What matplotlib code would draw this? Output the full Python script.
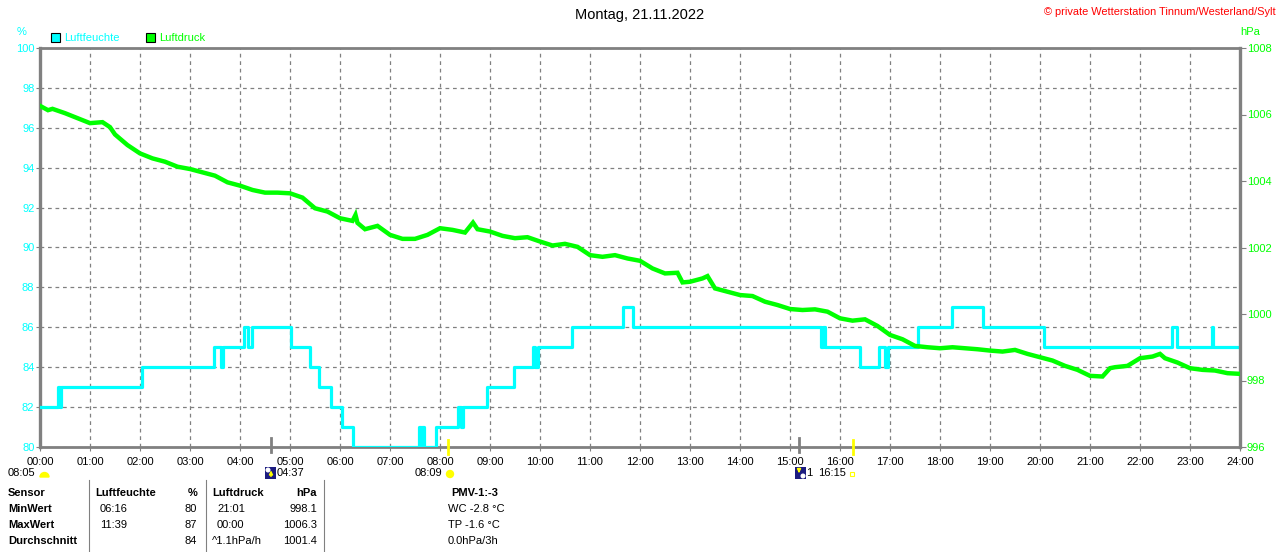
import matplotlib
matplotlib.use("Agg")
import matplotlib.pyplot as plt
from matplotlib.patches import Rectangle, Wedge, Circle

plt.rcParams['font.family'] = ['Liberation Sans', 'DejaVu Sans']

# --- data ---------------------------------------------------------------
hour_labels = [f"{h:02d}:00" for h in range(25)]

# humidity (%) as step changes: time in hours, new value
hum_hours = [0.0, 0.36, 0.39, 0.42, 2.03, 3.48, 3.62, 3.66, 4.07, 4.15, 4.24,
             5.01, 5.39, 5.58, 5.82, 6.04, 6.25, 7.58, 7.62, 7.64, 7.68, 7.92,
             8.37, 8.42, 8.46, 8.93, 9.48, 9.85, 9.89, 9.95, 10.64, 11.65,
             11.86, 15.61, 15.66, 15.70, 16.39, 16.77, 16.90, 16.95, 17.55,
             18.23, 18.85, 20.07, 22.63, 22.73, 23.43, 23.46, 24.0]
hum_vals = [82, 83, 82, 83, 84, 85, 84, 85, 86, 85, 86,
            85, 84, 83, 82, 81, 80, 81, 80, 81, 80, 81,
            82, 81, 82, 83, 84, 85, 84, 85, 86, 87,
            86, 85, 86, 85, 84, 85, 84, 85, 86,
            87, 86, 85, 86, 85, 86, 85, 85]

# pressure (hPa)
pres_hours = [0.00, 0.16, 0.25, 0.50, 0.75, 1.00, 1.25, 1.40, 1.50, 1.75,
              2.00, 2.25, 2.50, 2.75, 3.00, 3.25, 3.50, 3.75, 4.00, 4.25,
              4.50, 4.75, 5.00, 5.25, 5.50, 5.75, 6.00, 6.25, 6.31, 6.35,
              6.50, 6.75, 7.00, 7.25, 7.50, 7.75, 8.00, 8.25, 8.50, 8.66,
              8.75, 9.00, 9.25, 9.50, 9.75, 10.00, 10.25, 10.50, 10.75, 11.00,
              11.25, 11.50, 11.75, 12.00, 12.25, 12.50, 12.75, 12.85, 13.00, 13.25,
              13.35, 13.50, 13.75, 14.00, 14.25, 14.50, 14.75, 15.00, 15.25, 15.50,
              15.75, 16.00, 16.25, 16.50, 16.75, 17.00, 17.25, 17.50, 17.75, 18.00,
              18.25, 18.50, 18.75, 19.00, 19.25, 19.50, 19.75, 20.00, 20.25, 20.50,
              20.75, 21.00, 21.25, 21.40, 21.50, 21.75, 22.00, 22.25, 22.40, 22.50,
              22.75, 23.00, 23.25, 23.50, 23.75, 24.00]
pres_vals = [1006.26, 1006.13, 1006.17, 1006.04, 1005.89, 1005.74, 1005.77, 1005.62, 1005.40, 1005.08,
             1004.83, 1004.68, 1004.58, 1004.43, 1004.36, 1004.26, 1004.16, 1003.96, 1003.86, 1003.73,
             1003.65, 1003.65, 1003.63, 1003.50, 1003.18, 1003.08, 1002.88, 1002.80, 1002.98, 1002.74,
             1002.55, 1002.65, 1002.38, 1002.26, 1002.26, 1002.38, 1002.58, 1002.53, 1002.45, 1002.75,
             1002.55, 1002.48, 1002.35, 1002.28, 1002.31, 1002.18, 1002.06, 1002.11, 1002.02, 1001.77,
             1001.72, 1001.77, 1001.67, 1001.60, 1001.37, 1001.22, 1001.24, 1000.95, 1000.97, 1001.07,
             1001.14, 1000.77, 1000.67, 1000.57, 1000.54, 1000.37, 1000.27, 1000.15, 1000.12, 1000.14,
             1000.07, 999.87, 999.80, 999.84, 999.64, 999.37, 999.24, 999.04, 999.00, 998.97,
             999.00, 998.97, 998.94, 998.90, 998.87, 998.92, 998.80, 998.70, 998.60, 998.44,
             998.32, 998.14, 998.12, 998.37, 998.40, 998.44, 998.67, 998.72, 998.80, 998.67,
             998.54, 998.37, 998.32, 998.30, 998.22, 998.20]

# sun / moon times (hours)
moon_rise = 4 + 37 / 60
sun_rise = 8 + 9 / 60
moon_set = 15 + 11 / 60
sun_set = 16 + 15 / 60

table_rows = [
    ["Sensor", "Luftfeuchte", "%", "Luftdruck", "hPa", "PMV-1:-3"],
    ["MinWert", "06:16", "80", "21:01", "998.1", "WC -2.8 °C"],
    ["MaxWert", "11:39", "87", "00:00", "1006.3", "TP -1.6 °C"],
    ["Durchschnitt", "", "84", "^1.1hPa/h", "1001.4", "0.0hPa/3h"],
]

CYAN = "#00ffff"
GREEN = "#00ff00"
GRAY = "#808080"
W, H = 1280, 552

fig = plt.figure(figsize=(12.8, 5.52), dpi=100)
fig.patch.set_facecolor("white")

ax = fig.add_axes([40 / W, 1 - 447 / H, 1200 / W, 399 / H])
ax.set_xlim(0, 24)
ax.set_ylim(80, 100)
ax.set_xticks(range(25))
ax.set_xticklabels(hour_labels, fontsize=8)
ax.set_yticks(range(80, 101, 2))
ax.tick_params(axis='y', colors=GRAY, labelcolor=CYAN, labelsize=8, length=3, pad=1)
ax.tick_params(axis='x', colors=GRAY, labelcolor="black", labelsize=8, length=3, pad=4)
ax.grid(True, color=GRAY, linestyle=(0, (3, 3)), linewidth=0.9)
for s in ax.spines.values():
    s.set_color(GRAY)
    s.set_linewidth(2)
ax.spines['left'].set_linewidth(2.4)

ax.step(hum_hours, hum_vals, where='post', color=CYAN, linewidth=2.3, zorder=3)

ax2 = ax.twinx()
ax2.set_ylim(996, 1008)
ax2.set_yticks(range(996, 1009, 2))
ax2.tick_params(axis='y', colors=GRAY, labelcolor=GREEN, labelsize=8, length=4, pad=1)
for name, s in ax2.spines.items():
    s.set_visible(name == 'right')
    s.set_color(GRAY)
ax2.spines['right'].set_linewidth(2.4)
ax2.plot(pres_hours, pres_vals, color=GREEN, linewidth=3.2, solid_joinstyle='miter', zorder=4)

# sun / moon ticks below axis
for t in [moon_rise, moon_set]:
    ax.plot([t, t], [80.45, 79.75], color=GRAY, linewidth=2, clip_on=False, zorder=5)
for t in [sun_rise, sun_set]:
    ax.plot([t, t], [80.35, 79.65], color="#ffff00", linewidth=2, clip_on=False, zorder=5)

# overlay in pixel coordinates for header, icons and table
ov = fig.add_axes([0, 0, 1, 1], zorder=10)
ov.set_xlim(0, W)
ov.set_ylim(H, 0)
ov.axis('off')

ov.text(640, 15, "Montag, 21.11.2022", fontsize=10.5, ha='center', va='center')
ov.text(1276, 12, "© private Wetterstation Tinnum/Westerland/Sylt", fontsize=7.9,
        color="red", ha='right', va='center')
ov.text(22, 32, "%", fontsize=8, color=CYAN, ha='center', va='center')
ov.text(1250, 32, "hPa", fontsize=8, color=GREEN, ha='center', va='center')

ov.add_patch(Rectangle((51, 33), 9, 9, facecolor=CYAN, edgecolor="black", linewidth=0.8))
ov.text(64, 38, "Luftfeuchte", fontsize=8, color=CYAN, va='center')
ov.add_patch(Rectangle((146, 33), 9, 9, facecolor=GREEN, edgecolor="black", linewidth=0.8))
ov.text(159, 38, "Luftdruck", fontsize=8, color=GREEN, va='center')

# row under the time axis
ov.text(8, 473, "08:05", fontsize=8, va='center')
ov.add_patch(Wedge((44.5, 477), 4.5, 180, 360, color="#ffff00"))
ov.add_patch(Rectangle((265, 467), 11, 12, facecolor="#1c1c80", edgecolor="none"))
ov.add_patch(Circle((268, 470), 1.8, color="white"))
ov.annotate("", xy=(271, 467.5), xytext=(271, 479),
            arrowprops=dict(arrowstyle="-|>", color="#ffff00", lw=1.2, mutation_scale=5))
ov.text(277, 473, "04:37", fontsize=8, va='center')
ov.text(415, 473, "08:09", fontsize=8, va='center')
ov.add_patch(Circle((450, 474), 3.5, color="#ffff00"))
ov.add_patch(Rectangle((795, 467), 11, 12, facecolor="#1c1c80", edgecolor="none"))
ov.add_patch(Circle((803, 476), 1.8, color="white"))
ov.annotate("", xy=(799, 476), xytext=(799, 467),
            arrowprops=dict(arrowstyle="-|>", color="#ffff00", lw=1.2, mutation_scale=5))
ov.text(806, 473, "1", fontsize=8, va='center')
ov.text(818, 473, "16:15", fontsize=8, va='center')
ov.add_patch(Rectangle((850, 472), 4, 4, facecolor="none", edgecolor="#ffff00", linewidth=0.8))

# summary table
for xs in [89, 206, 324]:
    ov.plot([xs, xs], [480, 552], color=GRAY, linewidth=0.8)
row_y = [493, 509, 525, 541]
for i, row in enumerate(table_rows):
    y = row_y[i]
    bold = 'bold' if i == 0 else 'normal'
    ov.text(8, y, row[0], fontsize=8, fontweight='bold', va='center')
    ov.text(95 if i == 0 else 100, y, row[1], fontsize=8, fontweight=bold, va='center')
    ov.text(197, y, row[2], fontsize=8, fontweight=bold, va='center', ha='right')
    ov.text(212 if i in (0, 3) else 217, y, row[3], fontsize=8, fontweight=bold, va='center')
    ov.text(317, y, row[4], fontsize=8, fontweight=bold, va='center', ha='right')
    ov.text(448 if i else 475, y, row[5], fontsize=8, fontweight=bold, va='center',
            ha='left' if i else 'center')

fig.savefig("out.png", dpi=100)
